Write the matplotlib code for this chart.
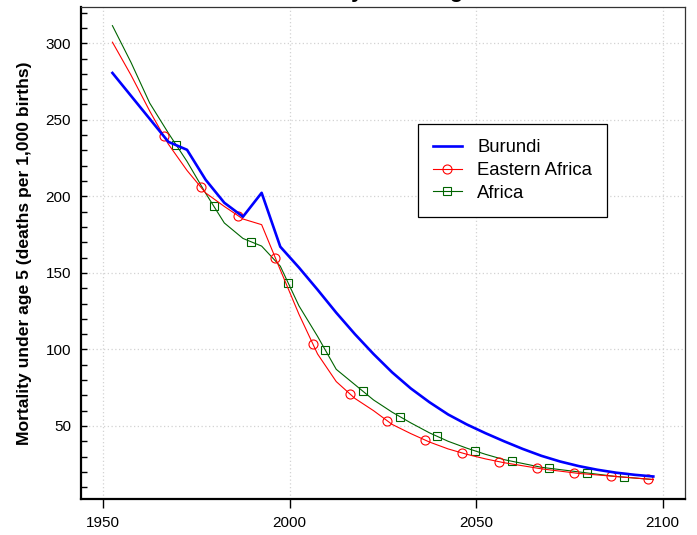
import numpy as np
import matplotlib
matplotlib.use("Agg")
import matplotlib.pyplot as plt
from matplotlib.lines import Line2D
from matplotlib.ticker import MultipleLocator

plt.rcParams["font.family"] = ["Liberation Sans", "DejaVu Sans"]

# 5-year periods (mid-points)
years = [1952.5, 1957.5, 1962.5, 1967.5, 1972.5, 1977.5, 1982.5, 1987.5,
         1992.5, 1997.5, 2002.5, 2007.5, 2012.5, 2017.5, 2022.5, 2027.5,
         2032.5, 2037.5, 2042.5, 2047.5, 2052.5, 2057.5, 2062.5, 2067.5,
         2072.5, 2077.5, 2082.5, 2087.5, 2092.5, 2097.5]

burundi = [280.6, 265.6, 250.6, 235.6, 230.4, 210.8, 195.8, 186.7,
           202.3, 167.1, 153.5, 139.0, 124.0, 110.0, 97.0, 85.0,
           74.5, 65.5, 57.5, 51.0, 45.3, 40.0, 35.0, 30.5,
           26.8, 23.8, 21.4, 19.5, 18.1, 17.0]

eastern_africa = [300.7, 279.1, 255.7, 234.1, 216.9, 202.2, 193.4, 185.2,
                  181.5, 152.0, 123.0, 97.0, 79.0, 68.0, 60.0, 51.0,
                  45.0, 39.5, 35.0, 31.5, 28.5, 26.0, 24.0, 22.0,
                  20.5, 19.0, 18.0, 17.0, 16.0, 15.0]

africa = [311.5, 287.4, 260.9, 241.3, 222.8, 202.0, 182.6, 172.5,
          167.5, 154.4, 128.5, 108.5, 87.0, 77.0, 67.0, 59.0,
          52.0, 45.5, 40.0, 35.5, 31.5, 28.0, 25.5, 23.0,
          21.5, 20.0, 18.5, 17.0, 16.0, 15.0]

# where the symbols sit along the two regional curves
east_marker_years = [1966.2, 1976.2, 1986.2, 1996.2, 2006.2, 2016.2, 2026.2,
                     2036.2, 2046.2, 2056.2, 2066.2, 2076.2, 2086.2, 2096.2]
africa_marker_years = [1969.6, 1979.6, 1989.6, 1999.6, 2009.6, 2019.6, 2029.6,
                       2039.6, 2049.6, 2059.6, 2069.6, 2079.6, 2089.6]

blue = "#0000FF"
red = "#FF0000"
green = "#006400"

fig = plt.figure(figsize=(6.97, 5.35), dpi=100)
ax = fig.add_axes([0.1158, 0.0673, 0.867, 0.9191])

ax.plot(years, burundi, color=blue, lw=1.9, zorder=5)
ax.plot(years, eastern_africa, color=red, lw=0.8, zorder=4)
ax.plot(years, africa, color=green, lw=0.8, zorder=3)

ax.plot(east_marker_years, np.interp(east_marker_years, years, eastern_africa),
        ls="none", marker="o", ms=6.5, mfc="none", mec=red, mew=0.8, zorder=4)
ax.plot(africa_marker_years, np.interp(africa_marker_years, years, africa),
        ls="none", marker="s", ms=6.0, mfc="none", mec=green, mew=0.8, zorder=3)

ax.set_xlim(1944, 2106)
ax.set_ylim(2.3, 323.5)

ax.set_xticks([1950, 2000, 2050, 2100])
ax.yaxis.set_minor_locator(MultipleLocator(10))
ax.set_yticks([50, 100, 150, 200, 250, 300])
ax.tick_params(axis="x", direction="out", length=6.5, width=1, labelsize=11, pad=6)
ax.tick_params(axis="y", which="both", direction="in", length=4, width=1,
               labelsize=11, pad=7)

ax.grid(True, which="major", color="#D3D3D3", ls=(0, (1, 2)), lw=0.9)
ax.set_axisbelow(True)

for side in ["top", "right"]:
    ax.spines[side].set_linewidth(0.9)
    ax.spines[side].set_color("#333333")
for side in ["left", "bottom"]:
    ax.spines[side].set_linewidth(1.6)

ax.set_ylabel("Mortality under age 5 (deaths per 1,000 births)",
              fontsize=12.6, fontweight="bold", labelpad=10)

fig.text(0.549, 1.0 + 2.5 / 535, "Mortality under age 5", ha="center",
         va="baseline", fontsize=16, fontweight="bold")

handles = [
    Line2D([], [], color=blue, lw=1.9),
    Line2D([], [], color=red, lw=0.8, marker="o", ms=6.5, mfc="none", mew=0.8),
    Line2D([], [], color=green, lw=0.8, marker="s", ms=6.0, mfc="none", mew=0.8),
]
leg = ax.legend(handles, ["Burundi", "Eastern Africa", "Africa"],
                loc="upper left", bbox_to_anchor=(0.5587, 0.762),
                borderaxespad=0, fontsize=13.3, frameon=True, fancybox=False,
                edgecolor="black", framealpha=1, handlelength=1.55,
                handletextpad=0.85, labelspacing=0.32, borderpad=0.8)
leg.get_frame().set_linewidth(0.9)

fig.savefig("out.png", dpi=100)
